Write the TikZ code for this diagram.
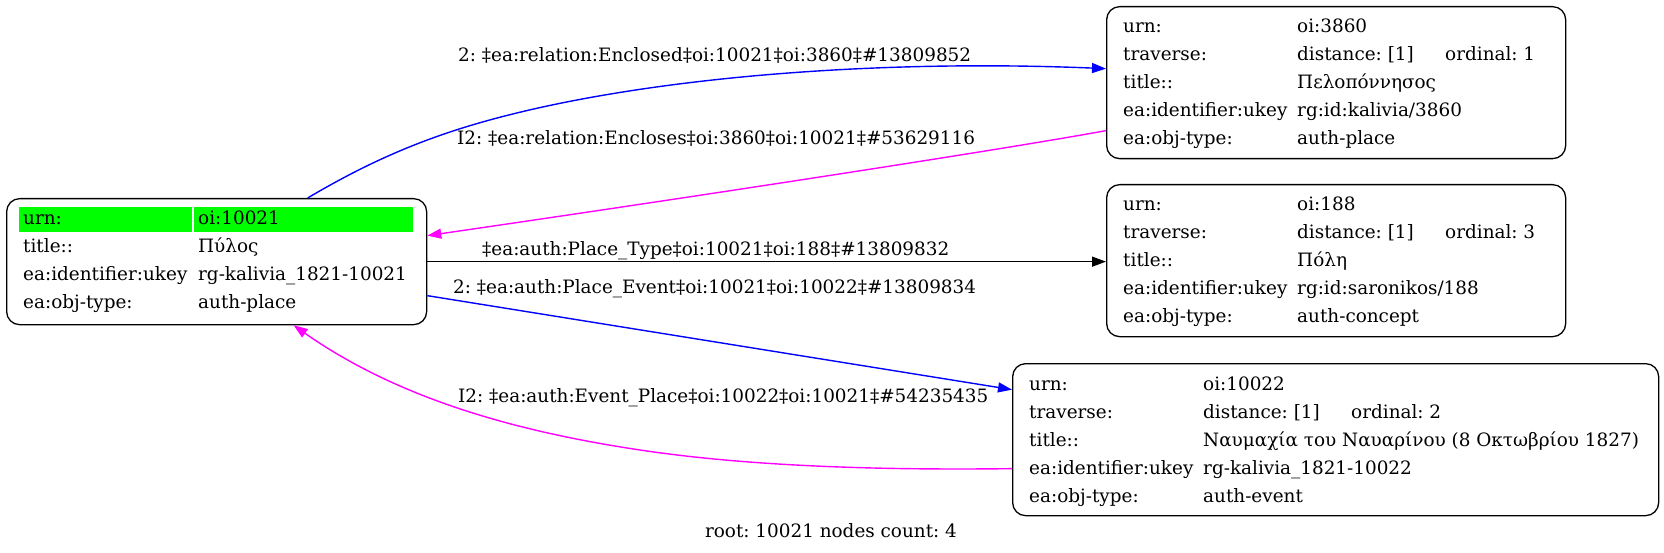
\documentclass[tikz,border=0pt]{standalone}
\usepackage{fontspec}
\setmainfont{DejaVu Serif}
\usetikzlibrary{arrows.meta}
\definecolor{hlgreen}{HTML}{00FF00}
\definecolor{mag}{HTML}{FF00FF}
\definecolor{blu}{HTML}{0000FF}
\frenchspacing
\begin{document}
\begin{tikzpicture}[x=1pt,y=-1pt,
  txt/.style={anchor=base west, inner sep=0pt, font=\fontsize{18.4}{22}\selectfont},
  rbox/.style={draw=black, line width=1.3pt, rounded corners=13pt, anchor=north west, inner sep=0pt},
  conn/.style={line width=1.4pt, -{Triangle[length=14pt,width=10pt]}},
  cell/.style={fill=hlgreen, draw=none}]
\useasboundingbox (0,0) rectangle (1664,553);
% boxes
\node[rbox, minimum width=420pt, minimum height=126pt] (A) at (6,198) {};
\node[rbox, minimum width=459pt, minimum height=152pt] (B) at (1106,6) {};
\node[rbox, minimum width=459pt, minimum height=152pt] (C) at (1106,184) {};
\node[rbox, minimum width=646pt, minimum height=152pt] (D) at (1012,363) {};
% A contents
\fill[cell] (19,207) rectangle (192,232);
\fill[cell] (194,207) rectangle (413,232);
\node[txt] (a1k) at (23,224.5) {urn:};
\node[txt] (a1v) at (198,224.5) {oi:10021};
\node[txt] (a2k) at (23,252.5) {title::};
\node[txt] (a2v) at (198,252.5) {Πύλος};
\node[txt] (a3k) at (23,280.5) {ea:identifier:ukey};
\node[txt] (a3v) at (198,280.5) {rg-kalivia\_1821-10021};
\node[txt] (a4k) at (23,308.5) {ea:obj-type:};
\node[txt] (a4v) at (198,308.5) {auth-place};
% B contents
\node[txt] (b1k) at (1123,32.5) {urn:};
\node[txt] (b1v) at (1297,32.5) {oi:3860};
\node[txt] (b2k) at (1123,60.5) {traverse:};
\node[txt] (b2v) at (1297,60.5) {distance: [1]};
\node[txt] (b2o) at (1445,60.5) {ordinal: 1};
\node[txt] (b3k) at (1123,88.5) {title::};
\node[txt] (b3v) at (1297,88.5) {Πελοπόννησος};
\node[txt] (b4k) at (1123,116.5) {ea:identifier:ukey};
\node[txt] (b4v) at (1297,116.5) {rg:id:kalivia/3860};
\node[txt] (b5k) at (1123,144.5) {ea:obj-type:};
\node[txt] (b5v) at (1297,144.5) {auth-place};
% C contents
\node[txt] (c1k) at (1123,210.5) {urn:};
\node[txt] (c1v) at (1297,210.5) {oi:188};
\node[txt] (c2k) at (1123,238.5) {traverse:};
\node[txt] (c2v) at (1297,238.5) {distance: [1]};
\node[txt] (c2o) at (1445,238.5) {ordinal: 3};
\node[txt] (c3k) at (1123,266.5) {title::};
\node[txt] (c3v) at (1297,266.5) {Πόλη};
\node[txt] (c4k) at (1123,294.5) {ea:identifier:ukey};
\node[txt] (c4v) at (1297,294.5) {rg:id:saronikos/188};
\node[txt] (c5k) at (1123,322.5) {ea:obj-type:};
\node[txt] (c5v) at (1297,322.5) {auth-concept};
% D contents
\node[txt] (d1k) at (1029,390) {urn:};
\node[txt] (d1v) at (1203,390) {oi:10022};
\node[txt] (d2k) at (1029,418) {traverse:};
\node[txt] (d2v) at (1203,418) {distance: [1]};
\node[txt] (d2o) at (1351,418) {ordinal: 2};
\node[txt] (d3k) at (1029,446) {title::};
\node[txt] (d3v) at (1203,446) {Ναυμαχία του Ναυαρίνου (8 Οκτωβρίου 1827)};
\node[txt] (d4k) at (1029,474) {ea:identifier:ukey};
\node[txt] (d4v) at (1203,474) {rg-kalivia\_1821-10022};
\node[txt] (d5k) at (1029,502) {ea:obj-type:};
\node[txt] (d5v) at (1203,502) {auth-event};
% edges
\draw[conn, blu] ([xshift=91pt]A.north) .. controls (345,176) and (390,152) .. (450,132)
   .. controls (600,82) and (850,58) .. ([yshift=14pt]B.west);
\draw[conn, mag] ([yshift=-48pt]B.west) .. controls (1000,150) and (700,196) .. ([yshift=26pt]A.east);
\draw[conn, black] (A.east) -- (A.east -| C.west);
\draw[conn, blu] ([yshift=-34pt]A.east) -- ([yshift=50pt]D.west);
\draw[conn, mag] ([yshift=-29pt]D.west) .. controls (900,470) and (760,468) .. (640,450)
   .. controls (520,432) and (400,400) .. ([xshift=77pt]A.south);
% edge labels
\node[txt] (l1) at (458,62) {2: ‡ea:relation:Enclosed‡oi:10021‡oi:3860‡\#13809852};
\node[txt] (l2) at (457,145) {I2: ‡ea:relation:Encloses‡oi:3860‡oi:10021‡\#53629116};
\node[txt] (l3) at (482,256) {‡ea:auth:Place\_Type‡oi:10021‡oi:188‡\#13809832};
\node[txt] (l4) at (453,294) {2: ‡ea:auth:Place\_Event‡oi:10021‡oi:10022‡\#13809834};
\node[txt] (l5) at (458,402) {I2: ‡ea:auth:Event\_Place‡oi:10022‡oi:10021‡\#54235435};
% caption
\node[txt, anchor=base] (cap) at (831,537) {root: 10021 nodes count: 4};
\end{tikzpicture}
\end{document}
